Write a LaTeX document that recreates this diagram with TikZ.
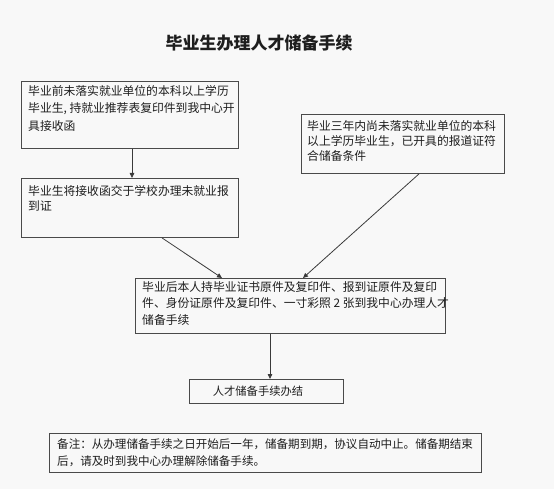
\documentclass[tikz,border=0pt]{standalone}
\usepackage{fontspec}
\setmainfont{Noto Sans CJK SC}
\usetikzlibrary{arrows.meta}
\definecolor{bgcol}{HTML}{F8F8F8}
\definecolor{boxgray}{HTML}{4A4A4A}
\definecolor{linegray}{HTML}{3A3A3A}
\definecolor{txtcol}{HTML}{1E1E1E}
\begin{document}
\begin{tikzpicture}[x=1pt,y=-1pt,
  box/.style={draw=boxgray, line width=0.9pt, inner sep=0pt, anchor=north west},
  txt/.style={anchor=north west, inner sep=0pt, align=left, text=txtcol, font=\fontsize{11.8}{17.5}\selectfont},
  arr/.style={draw=linegray, line width=0.8pt, -{Triangle[length=5pt,width=4.5pt]}}]
\path[fill=bgcol] (0,0) rectangle (554,489);
\node[text=txtcol, font=\fontsize{17}{20}\selectfont\bfseries] (title) at (259,43) {毕业生办理人才储备手续};
% boxes
\node[box, minimum width=217pt, minimum height=67pt] (A) at (21,81) {};
\node[box, minimum width=203pt, minimum height=59pt] (B) at (301,114) {};
\node[box, minimum width=217pt, minimum height=59pt] (C) at (21,178) {};
\node[box, minimum width=310pt, minimum height=55pt] (D) at (135,278) {};
\node[box, minimum width=154pt, minimum height=24pt] (E) at (189,379) {};
\node[box, minimum width=432pt, minimum height=39pt] (F) at (49,433) {};
% texts
\node[txt] (At) at (28,85) {毕业前未落实就业单位的本科以上学历\\毕业生, 持就业推荐表复印件到我中心开\\具接收函};
\node[txt, font=\fontsize{11.8}{15.2}\selectfont] (Bt) at (307,120) {毕业三年内尚未落实就业单位的本科\\以上学历毕业生，已开具的报道证符\\合储备条件};
\node[txt, font=\fontsize{11.8}{15.2}\selectfont] (Ct) at (28,185) {毕业生将接收函交于学校办理未就业报\\到证};
\node[txt, font=\fontsize{11.8}{16.8}\selectfont] (Dt) at (142,281) {毕业后本人持毕业证书原件及复印件、报到证原件及复印\\件、身份证原件及复印件、一寸彩照 2 张到我中心办理人才\\储备手续};
\node[text=txtcol, inner sep=0pt, font=\fontsize{11.3}{14}\selectfont] (Et) at (258,391) {人才储备手续办结};
\node[txt, font=\fontsize{11.55}{17}\selectfont] (Ft) at (57,439) {备注：从办理储备手续之日开始后一年，储备期到期，协议自动中止。储备期结束\\后，请及时到我中心办理解除储备手续。};
% connectors
\draw[arr] ([xshift=111pt]A.south west) -- ([xshift=111pt]C.north west);
\draw[arr] ([xshift=141pt]C.south west) -- ([xshift=87pt]D.north west);
\draw[arr] ([xshift=118pt]B.south west) -- ([xshift=168pt]D.north west);
\draw[arr] ([xshift=135pt]D.south west) -- ([xshift=81pt]E.north west);
\end{tikzpicture}
\end{document}
